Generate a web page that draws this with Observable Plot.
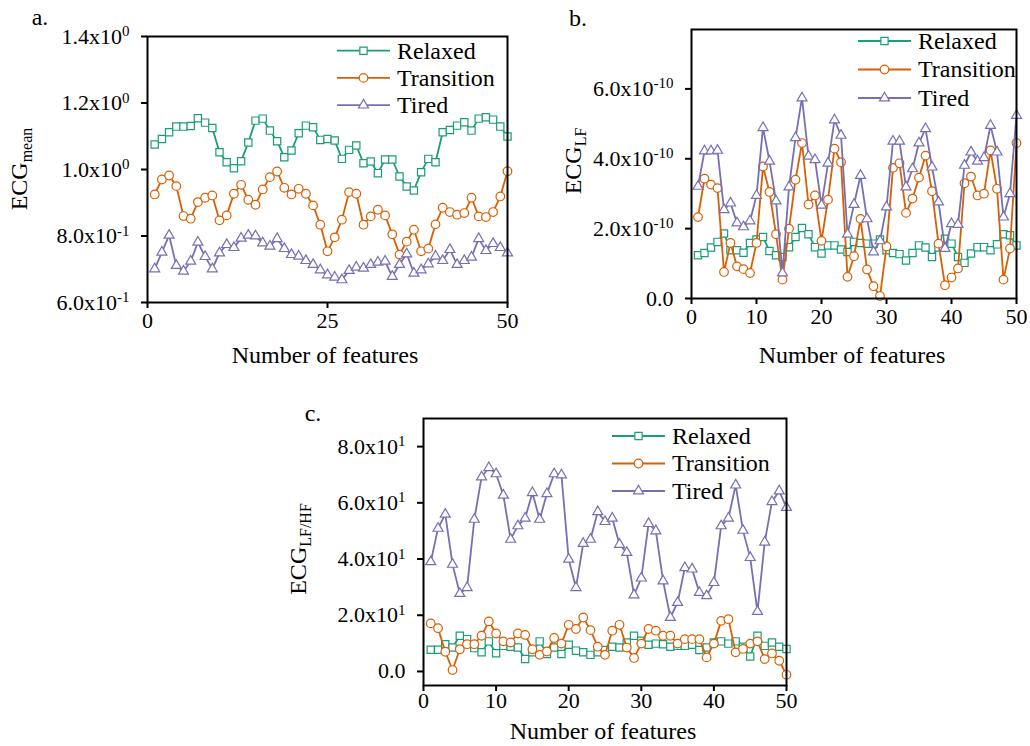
<!DOCTYPE html>
<html><head><meta charset="utf-8">
<script src="https://cdn.jsdelivr.net/npm/d3@7"></script>
<script src="https://cdn.jsdelivr.net/npm/@observablehq/plot@0.6"></script>
<style>
body{margin:0;background:#fff;font-family:"Liberation Serif","Times New Roman",Times,serif;}
#root{position:relative;width:1030px;height:746px;overflow:hidden;background:#fff;}
.abs{position:absolute;white-space:nowrap;color:#000;font-size:24px;line-height:1;}
.abs sub{font-size:16px;vertical-align:-0.3em;}
</style></head><body><div id="root"></div>
<script>
// ---------- data ----------
const seriesNames = ["Relaxed", "Transition", "Tired"];
const seriesColors = ["#1b9e77", "#d95f02", "#7570b3"];
const seriesSymbols = ["square", "circle", "triangle"];

// Panel a: ECG mean
const meanRelaxed = [1.075,1.092,1.112,1.129,1.129,1.131,1.154,1.141,1.125,1.052,1.022,1.004,1.025,1.081,1.147,1.153,1.117,1.085,1.037,1.057,1.109,1.132,1.127,1.089,1.092,1.087,1.032,1.059,1.072,1.019,1.024,0.989,1.030,1.030,0.979,0.949,0.937,0.992,1.032,1.022,1.112,1.119,1.132,1.142,1.117,1.153,1.157,1.150,1.129,1.099];
const meanTransition = [0.925,0.970,0.982,0.950,0.860,0.852,0.902,0.915,0.922,0.847,0.862,0.927,0.954,0.909,0.894,0.940,0.977,0.994,0.945,0.925,0.942,0.927,0.892,0.834,0.754,0.796,0.849,0.932,0.927,0.834,0.859,0.879,0.862,0.805,0.744,0.783,0.819,0.754,0.762,0.835,0.885,0.872,0.864,0.869,0.915,0.859,0.857,0.872,0.919,0.995];
const meanTired = [0.701,0.751,0.802,0.711,0.694,0.724,0.781,0.738,0.701,0.749,0.774,0.765,0.793,0.802,0.800,0.779,0.769,0.792,0.762,0.744,0.739,0.726,0.714,0.698,0.683,0.676,0.668,0.696,0.706,0.703,0.714,0.721,0.724,0.678,0.714,0.746,0.688,0.698,0.716,0.739,0.726,0.759,0.714,0.726,0.736,0.792,0.756,0.777,0.765,0.749];

// Panel b: ECG LF (values in units of 1e-10)
const lfRelaxed = [1.24,1.30,1.46,1.62,1.86,1.38,1.38,1.31,1.59,1.69,1.76,1.36,1.24,1.19,1.47,1.76,2.02,1.84,1.47,1.29,1.52,1.52,1.40,1.33,1.62,1.59,1.57,1.57,1.69,1.38,1.30,1.27,1.09,1.30,1.52,1.46,1.19,1.46,1.71,1.57,1.19,1.02,1.29,1.47,1.47,1.38,1.55,1.84,1.81,1.52];
const lfTransition = [2.33,3.43,3.26,3.16,0.76,1.59,0.92,0.84,0.73,1.59,3.78,3.05,1.84,0.54,2.00,3.40,4.45,2.69,2.95,1.65,2.83,4.29,3.90,0.62,1.21,2.28,0.83,0.35,0.07,1.49,3.74,3.87,2.45,2.86,3.46,4.09,3.07,1.57,0.38,0.60,0.86,3.30,3.49,2.95,3.00,4.24,3.14,0.54,1.43,4.45];
const lfTired = [3.21,4.22,4.22,4.24,2.54,2.73,2.16,2.05,2.22,2.95,4.89,3.93,2.79,0.73,3.19,4.60,5.74,4.07,3.97,2.67,3.87,5.11,4.67,1.84,2.69,3.52,2.28,1.33,1.65,2.62,4.50,4.50,3.19,3.71,4.45,4.86,3.76,2.76,1.43,2.14,2.12,3.81,4.19,3.93,4.03,4.95,4.19,2.33,3.00,5.24];

// Panel c: ECG LF/HF
const lfhfRelaxed = [7.7,7.7,9.7,8.5,12.7,11.5,8.3,6.8,10.7,6.5,9.1,8.8,8.5,4.4,6.8,10.7,6.2,8.5,6.2,9.5,7.4,6.8,5.9,6.8,7.6,8.8,8.5,10.3,12.7,10.9,9.5,9.9,9.7,8.8,9.1,9.1,9.5,7.6,8.5,10.3,10.7,9.9,10.7,8.8,5.3,12.7,9.1,10.3,8.8,8.0];
const lfhfTransition = [17.1,15.4,7.0,0.5,7.9,9.7,9.7,12.7,17.8,13.5,10.7,10.3,13.5,13.0,7.9,5.9,7.1,11.9,9.9,16.6,15.1,19.2,14.7,8.8,5.9,14.5,16.6,8.5,4.8,9.9,15.1,14.5,12.7,12.7,9.9,11.5,11.5,11.5,5.0,9.9,18.0,18.6,6.8,8.0,9.9,10.7,4.4,6.4,3.8,-1.2];
const lfhfTired = [39.0,50.9,55.9,38.1,27.7,29.8,54.1,69.2,72.5,70.3,62.7,47.0,51.8,54.5,63.6,54.1,63.2,70.3,69.9,39.9,29.8,45.5,47.0,56.8,53.3,54.5,45.2,42.3,27.2,33.2,52.6,50.0,32.2,19.2,24.5,36.9,36.4,28.1,26.9,31.6,51.8,54.5,66.3,50.2,40.5,21.3,46.0,60.4,64.2,58.3];

// ticks
const xTicksA = [0, 25, 50];
const xTicksBC = [0, 10, 20, 30, 40, 50];
const yTicksA = [0.6, 0.8, 1.0, 1.2, 1.4];
const yLabelsA = ["6.0x10^-1", "8.0x10^-1", "1.0x10^0", "1.2x10^0", "1.4x10^0"];
const yTicksB = [0, 2, 4, 6];
const yLabelsB = ["0.0", "2.0x10^-10", "4.0x10^-10", "6.0x10^-10"];
const yTicksC = [0, 20, 40, 60, 80];
const yLabelsC = ["0.0", "2.0x10^1", "4.0x10^1", "6.0x10^1", "8.0x10^1"];

// ---------- drawing ----------
const root = document.getElementById("root");
const FONT = '"Liberation Serif","Times New Roman",Times,serif';
const symbolR = {square: 4.1, circle: 4.3, triangle: 3.7};

function panel(cfg) {
  const mL = 130, mR = 14, mT = 14, mB = 50;
  const marks = [];
  cfg.series.forEach((vals, k) => {
    const d = vals.map((v, i) => ({x: i + 1, y: v}));
    marks.push(Plot.line(d, {x: "x", y: "y", stroke: seriesColors[k], strokeWidth: 1.8}));
    marks.push(Plot.dot(d, {x: "x", y: "y", symbol: seriesSymbols[k], r: symbolR[seriesSymbols[k]],
      stroke: seriesColors[k], fill: "white", strokeWidth: 1.2}));
  });
  const svg = Plot.plot({
    width: mL + cfg.w + mR, height: mT + cfg.h + mB,
    marginLeft: mL, marginRight: mR, marginTop: mT, marginBottom: mB,
    x: {domain: cfg.xDomain}, y: {domain: cfg.yDomain},
    style: {fontFamily: FONT, fontSize: "22px", color: "black", background: "transparent", overflow: "visible"},
    marks: [
      Plot.axisX({ticks: cfg.xTicks, tickSize: 6, tickPadding: cfg.xPad, strokeWidth: 2, label: null, tickFormat: d => String(d)}),
      Plot.axisY({ticks: cfg.yTicks, tickSize: 6, tickPadding: 12, strokeWidth: 2, label: null,
        tickFormat: d => cfg.yLabels[cfg.yTicks.indexOf(d)]}),
      ...marks,
      Plot.frame({stroke: "black", strokeWidth: 2})
    ]
  });
  d3.select(svg).selectAll('g[aria-label="y-axis tick label"] text').each(function () {
    const t = this.textContent;
    if (t.includes("^")) {
      const [base, exp] = t.split("^");
      this.textContent = base;
      d3.select(this).append("tspan").attr("dy", "-0.5em").attr("font-size", "15px").text(exp);
    }
  });
  svg.style.position = "absolute";
  svg.style.left = (cfg.left - mL) + "px";
  svg.style.top = (cfg.top - mT) + "px";
  root.appendChild(svg);
}

function legend(textX, y0, dy) {
  const svg = d3.create("svg").attr("width", 1030).attr("height", 746)
    .style("position", "absolute").style("left", "0px").style("top", "0px").style("overflow", "visible");
  seriesNames.forEach((n, k) => {
    const y = y0 + k * dy;
    svg.append("line").attr("x1", textX - 60).attr("x2", textX - 7).attr("y1", y).attr("y2", y)
      .attr("stroke", seriesColors[k]).attr("stroke-width", 1.8);
    const r = symbolR[seriesSymbols[k]];
    const sym = {square: d3.symbolSquare, circle: d3.symbolCircle, triangle: d3.symbolTriangle}[seriesSymbols[k]];
    svg.append("path").attr("d", d3.symbol(sym, Math.PI * r * r)())
      .attr("transform", `translate(${textX - 33.5},${y})`)
      .attr("fill", "white").attr("stroke", seriesColors[k]).attr("stroke-width", 1.2);
    svg.append("text").attr("x", textX).attr("y", y).attr("dy", "0.33em")
      .style("font-family", FONT).attr("font-size", 24).attr("fill", "black").text(n);
  });
  root.appendChild(svg.node());
}

function label(html, cx, cy, rotate) {
  const d = document.createElement("div");
  d.className = "abs";
  d.innerHTML = html;
  d.style.left = cx + "px";
  d.style.top = cy + "px";
  d.style.transform = "translate(-50%,-50%)" + (rotate ? " rotate(-90deg)" : "");
  root.appendChild(d);
}

panel({left: 147, top: 36, w: 360, h: 266, xDomain: [0, 50], yDomain: [0.6, 1.4],
  xTicks: xTicksA, yTicks: yTicksA, yLabels: yLabelsA, xPad: 4,
  series: [meanRelaxed, meanTransition, meanTired]});
panel({left: 691, top: 29, w: 325, h: 269, xDomain: [0, 50], yDomain: [0, 7.7],
  xTicks: xTicksBC, yTicks: yTicksB, yLabels: yLabelsB, xPad: 4,
  series: [lfRelaxed, lfTransition, lfTired]});
panel({left: 423, top: 418, w: 363, h: 267, xDomain: [0, 50], yDomain: [-5, 90],
  xTicks: xTicksBC, yTicks: yTicksC, yLabels: yLabelsC, xPad: 1,
  series: [lfhfRelaxed, lfhfTransition, lfhfTired]});

legend(397, 50.7, 27.2);
legend(918, 41, 28.5);
legend(672, 436, 27.5);

label("ECG<sub>mean</sub>", 21, 169, true);
label("ECG<sub>LF</sub>", 575, 161, true);
label("ECG<sub>LF/HF</sub>", 300, 549, true);
label("Number of features", 325, 355, false);
label("Number of features", 852, 355, false);
label("Number of features", 603, 731, false);
label("a.", 40, 17, false);
label("b.", 578, 18, false);
label("c.", 313, 413, false);
</script></body></html>
